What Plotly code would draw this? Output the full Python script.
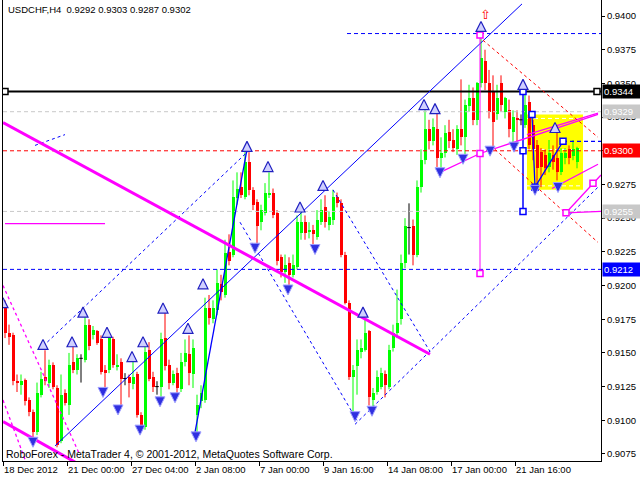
import plotly.graph_objects as go

# ---------------- data ----------------
chart_title = "USDCHF,H4  0.9292 0.9303 0.9287 0.9302"
copyright_text = "RoboForex - MetaTrader 4, © 2001-2012, MetaQuotes Software Corp."

time_labels = ["18 Dec 2012", "21 Dec 00:00", "27 Dec 04:00", "2 Jan 08:00", "7 Jan 00:00",
               "9 Jan 16:00", "14 Jan 08:00", "17 Jan 00:00", "21 Jan 16:00"]
time_label_bars = [0, 16, 32, 48, 64, 80, 96, 112, 128]

opens = [0.9183, 0.9165, 0.9163, 0.9129, 0.9126, 0.9130, 0.9115, 0.9106, 0.9091, 0.9119,
         0.9132, 0.9128, 0.9141, 0.9124, 0.9085, 0.9120, 0.9111, 0.9143, 0.9137, 0.9146,
         0.9145, 0.9171, 0.9163, 0.9166, 0.9160, 0.9137, 0.9137, 0.9160, 0.9140, 0.9143,
         0.9131, 0.9132, 0.9127, 0.9134, 0.9104, 0.9095, 0.9152, 0.9132, 0.9125, 0.9125,
         0.9161, 0.9141, 0.9128, 0.9135, 0.9123, 0.9143, 0.9149, 0.9134, 0.9104, 0.9114,
         0.9115, 0.9183, 0.9175, 0.9182, 0.9201, 0.9193, 0.9225, 0.9223, 0.9265, 0.9273,
         0.9266, 0.9292, 0.9271, 0.9262, 0.9247, 0.9254, 0.9267, 0.9269, 0.9254, 0.9221,
         0.9210, 0.9217, 0.9208, 0.9214, 0.9239, 0.9247, 0.9240, 0.9241, 0.9236, 0.9247,
         0.9258, 0.9245, 0.9249, 0.9266, 0.9261, 0.9223, 0.9187, 0.9132, 0.9140, 0.9151,
         0.9152, 0.9166, 0.9115, 0.9121, 0.9125, 0.9134, 0.9125, 0.9154, 0.9165, 0.9175,
         0.9217, 0.9243, 0.9244, 0.9223, 0.9273, 0.9293, 0.9316, 0.9307, 0.9316, 0.9295,
         0.9298, 0.9314, 0.9308, 0.9301, 0.9316, 0.9310, 0.9333, 0.9339, 0.9323, 0.9350,
         0.9367, 0.9350, 0.9344, 0.9327, 0.9350, 0.9329, 0.9330, 0.9314, 0.9324, 0.9323,
         0.9319, 0.9336, 0.9319, 0.9304, 0.9299, 0.9297, 0.9288, 0.9297, 0.9295, 0.9284,
         0.9295, 0.9301, 0.9296, 0.9292]
highs = [0.9189, 0.9171, 0.9165, 0.9134, 0.9134, 0.9131, 0.9117, 0.9108, 0.9128, 0.9136,
         0.9152, 0.9145, 0.9143, 0.9126, 0.9134, 0.9123, 0.9150, 0.9155, 0.9149, 0.9149,
         0.9177, 0.9175, 0.9170, 0.9167, 0.9163, 0.9141, 0.9163, 0.9162, 0.9149, 0.9146,
         0.9135, 0.9134, 0.9145, 0.9136, 0.9106, 0.9156, 0.9158, 0.9136, 0.9129, 0.9165,
         0.9180, 0.9145, 0.9137, 0.9139, 0.9150, 0.9160, 0.9163, 0.9160, 0.9119, 0.9126,
         0.9191, 0.9193, 0.9189, 0.9212, 0.9208, 0.9234, 0.9238, 0.9278, 0.9284, 0.9284,
         0.9299, 0.9299, 0.9273, 0.9264, 0.9260, 0.9276, 0.9284, 0.9272, 0.9256, 0.9223,
         0.9223, 0.9221, 0.9223, 0.9252, 0.9256, 0.9252, 0.9247, 0.9245, 0.9256, 0.9264,
         0.9267, 0.9255, 0.9271, 0.9269, 0.9264, 0.9225, 0.9189, 0.9141, 0.9160, 0.9160,
         0.9175, 0.9167, 0.9124, 0.9137, 0.9139, 0.9137, 0.9156, 0.9171, 0.9197, 0.9223,
         0.9250, 0.9261, 0.9249, 0.9278, 0.9301, 0.9330, 0.9323, 0.9324, 0.9328, 0.9310,
         0.9319, 0.9323, 0.9316, 0.9319, 0.9353, 0.9338, 0.9349, 0.9347, 0.9351, 0.9385,
         0.9375, 0.9360, 0.9356, 0.9349, 0.9356, 0.9340, 0.9338, 0.9330, 0.9330, 0.9327,
         0.9344, 0.9341, 0.9323, 0.9308, 0.9302, 0.9301, 0.9308, 0.9304, 0.9319, 0.9302,
         0.9302, 0.9304, 0.9308, 0.9303]
lows = [0.9161, 0.9156, 0.9126, 0.9121, 0.9119, 0.9111, 0.9103, 0.9085, 0.9089, 0.9117,
        0.9126, 0.9124, 0.9123, 0.9080, 0.9083, 0.9111, 0.9104, 0.9135, 0.9134, 0.9128,
        0.9143, 0.9152, 0.9160, 0.9156, 0.9134, 0.9123, 0.9135, 0.9139, 0.9137, 0.9109,
        0.9126, 0.9117, 0.9123, 0.9102, 0.9093, 0.9093, 0.9129, 0.9121, 0.9119, 0.9115,
        0.9137, 0.9123, 0.9126, 0.9120, 0.9121, 0.9140, 0.9126, 0.9124, 0.9091, 0.9109,
        0.9113, 0.9171, 0.9172, 0.9178, 0.9189, 0.9191, 0.9215, 0.9221, 0.9260, 0.9265,
        0.9264, 0.9267, 0.9256, 0.9229, 0.9241, 0.9252, 0.9265, 0.9250, 0.9215, 0.9206,
        0.9202, 0.9198, 0.9206, 0.9212, 0.9234, 0.9234, 0.9235, 0.9230, 0.9234, 0.9245,
        0.9243, 0.9241, 0.9245, 0.9258, 0.9221, 0.9186, 0.9130, 0.9106, 0.9119, 0.9146,
        0.9151, 0.9111, 0.9108, 0.9119, 0.9123, 0.9117, 0.9123, 0.9151, 0.9161, 0.9171,
        0.9213, 0.9223, 0.9215, 0.9221, 0.9269, 0.9290, 0.9301, 0.9304, 0.9288, 0.9284,
        0.9295, 0.9302, 0.9299, 0.9297, 0.9304, 0.9296, 0.9329, 0.9319, 0.9319, 0.9347,
        0.9345, 0.9324, 0.9301, 0.9323, 0.9329, 0.9324, 0.9310, 0.9304, 0.9304, 0.9319,
        0.9317, 0.9301, 0.9293, 0.9273, 0.9273, 0.9282, 0.9284, 0.9286, 0.9278, 0.9282,
        0.9290, 0.9290, 0.9293, 0.9287]
closes = [0.9165, 0.9162, 0.9129, 0.9128, 0.9129, 0.9114, 0.9106, 0.9091, 0.9120, 0.9131,
          0.9129, 0.9141, 0.9125, 0.9082, 0.9119, 0.9113, 0.9141, 0.9137, 0.9146, 0.9146,
          0.9171, 0.9155, 0.9167, 0.9157, 0.9136, 0.9135, 0.9161, 0.9141, 0.9141, 0.9131,
          0.9131, 0.9128, 0.9132, 0.9104, 0.9094, 0.9151, 0.9131, 0.9125, 0.9125, 0.9160,
          0.9140, 0.9128, 0.9134, 0.9124, 0.9143, 0.9150, 0.9135, 0.9154, 0.9111, 0.9120,
          0.9183, 0.9176, 0.9183, 0.9202, 0.9195, 0.9224, 0.9218, 0.9266, 0.9272, 0.9267,
          0.9292, 0.9271, 0.9260, 0.9244, 0.9256, 0.9269, 0.9269, 0.9252, 0.9218, 0.9210,
          0.9215, 0.9208, 0.9215, 0.9247, 0.9247, 0.9239, 0.9241, 0.9238, 0.9249, 0.9256,
          0.9247, 0.9251, 0.9266, 0.9261, 0.9223, 0.9187, 0.9132, 0.9137, 0.9152, 0.9154,
          0.9165, 0.9117, 0.9120, 0.9132, 0.9135, 0.9126, 0.9152, 0.9165, 0.9172, 0.9217,
          0.9244, 0.9243, 0.9223, 0.9273, 0.9293, 0.9316, 0.9307, 0.9318, 0.9295, 0.9298,
          0.9313, 0.9307, 0.9302, 0.9316, 0.9310, 0.9334, 0.9339, 0.9323, 0.9350, 0.9369,
          0.9350, 0.9329, 0.9321, 0.9339, 0.9334, 0.9339, 0.9316, 0.9325, 0.9323, 0.9323,
          0.9334, 0.9304, 0.9301, 0.9287, 0.9288, 0.9287, 0.9298, 0.9292, 0.9284, 0.9298,
          0.9298, 0.9295, 0.9301, 0.9302]

price_ticks = [0.9075, 0.9100, 0.9125, 0.9150, 0.9175, 0.9200, 0.9225, 0.9250,
               0.9275, 0.9300, 0.9325, 0.9350, 0.9375, 0.9400]

# horizontal levels
level_prices = [0.9344, 0.9329, 0.9300, 0.9255, 0.9212]
level_colors = ["black", "#c8c8c8", "#ff0000", "#c8c8c8", "#0000ff"]
level_dashes = ["solid", "4px,3px", "4px,3px", "4px,3px", "4px,3px"]
level_widths = [2, 1, 1, 1, 1]
label_bgs = ["black", "#c8c8c8", "#ff0000", "#c8c8c8", "#0000ff"]

# analysis drawings: (bar position, price)
uptrend_x, uptrend_y = [13.0, 129.75], [0.9081, 0.9409]
steep_x, steep_y = [48.0, 61.0], [0.9091, 0.9301]
channel_x, channel_y = [10.0, 61.75], [0.9155, 0.9301]
short_dash_x, short_dash_y = [8.0, 15.5], [0.9304, 0.9312]
fall_dash1_x, fall_dash1_y = [59.25, 88.5], [0.9247, 0.9100]
fall_dash2_x, fall_dash2_y = [82.5, 106.75], [0.9271, 0.9151]
rise_dash_x, rise_dash_y = [88.0, 148.75], [0.9097, 0.9273]
top_dash_x, top_dash_y = [86.0, 149.5], [0.9387, 0.9387]
right_dash_x, right_dash_y = [140.0, 149.5], [0.9307, 0.9307]
zigzag_x, zigzag_y = [132.25, 133.0, 140.0], [0.9327, 0.9273, 0.9307]
vert_blue_x, vert_blue_y = [130.0, 130.0], [0.9344, 0.9255]

mag_thick1_x, mag_thick1_y = [0.0, 106.75], [0.9321, 0.9149]
mag_thick2_x, mag_thick2_y = [0.0, 18.0], [0.9099, 0.9069]
mag_flat_x, mag_flat_y = [0.5, 25.5], [0.9246, 0.9246]
mag_dot1_x, mag_dot1_y = [0.0, 19.25], [0.9200, 0.9074]
mag_dot2_x, mag_dot2_y = [0.0, 5.5], [0.9115, 0.9071]
mag_vert_x, mag_vert_y = [119.25, 119.25], [0.9386, 0.9209]
mag_fan1_x, mag_fan1_y = [109.25, 119.25, 148.75], [0.9284, 0.9298, 0.9327]
mag_fan2_x, mag_fan2_y = [131.0, 148.75], [0.9312, 0.9328]
mag_low_x, mag_low_y = [137.25, 148.75], [0.9272, 0.9290]
mag_rise_x, mag_rise_y = [140.75, 147.5, 149.5], [0.9254, 0.9276, 0.9282]
mag_flat2_x, mag_flat2_y = [140.75, 149.5], [0.9254, 0.9255]

red_dash1_x, red_dash1_y = [120.0, 148.75], [0.9382, 0.9310]
red_dash2_x, red_dash2_y = [123.0, 148.75], [0.9301, 0.9232]

box_x, box_y = [131.0, 145.0], [0.9271, 0.9327]
box_lines_y = [0.9324, 0.9301, 0.9274]

black_sq_x, black_sq_y = [0.5, 148.5], [0.9344, 0.9344]
blue_sq_x = [130.0, 130.0, 130.0, 132.25, 133.0, 140.0]
blue_sq_y = [0.9344, 0.9300, 0.9255, 0.9327, 0.9273, 0.9307]
mag_sq_x = [119.25, 119.25, 119.25, 140.75, 147.5]
mag_sq_y = [0.9386, 0.9298, 0.9209, 0.9254, 0.9276]

up_arrow_x = [0, 10, 17.25, 20, 26, 32.25, 35, 40, 46.25, 50, 61, 66.25, 74.25, 80, 90,
              105.25, 108, 119.5, 130, 138]
up_arrow_y = [0.9191, 0.9160, 0.9162, 0.9184, 0.9169, 0.9151, 0.9162, 0.9187, 0.9172, 0.9205,
              0.9307, 0.9292, 0.9262, 0.9278, 0.9184, 0.9338, 0.9335, 0.9396, 0.9353, 0.9321]
down_arrow_x = [7.5, 25, 28.75, 34.25, 39.25, 43, 48.25, 63, 71.25, 78, 88, 92.25,
                109.25, 115, 121.75, 127.75, 133, 138.75]
down_arrow_y = [0.9080, 0.9117, 0.9104, 0.9089, 0.9110, 0.9113, 0.9084, 0.9224, 0.9193, 0.9223,
                0.9099, 0.9103, 0.9280, 0.9290, 0.9296, 0.9299, 0.9267, 0.9269]
red_mark_x, red_mark_y = 120.5, 0.9401

# ---------------- figure ----------------
FONT = "Liberation Sans"
n = len(opens)
pos = [i + 0.5 for i in range(n)]

fig = go.Figure()

# candle bodies
body_base, body_h, body_col = [], [], []
for o, c in zip(opens, closes):
    body_base.append(min(o, c))
    body_h.append(max(abs(c - o), 0.00008))
    body_col.append("#00ff00" if c > o else ("#ff0000" if c < o else "rgba(0,0,0,0)"))
fig.add_trace(go.Bar(x=pos, y=body_h, base=body_base, width=0.75,
                     marker=dict(color=body_col, line=dict(width=0)), hoverinfo="skip"))

# wicks
for colr, test in [("#00ff00", lambda o, c: c > o), ("#ff0000", lambda o, c: c < o),
                   ("black", lambda o, c: c == o)]:
    wx, wy = [], []
    for p, o, h, l, c in zip(pos, opens, highs, lows, closes):
        if test(o, c):
            wx += [p, p, None]
            wy += [l, h, None]
            if colr == "black":
                wx += [p - 0.45, p + 0.45, None]
                wy += [o, o, None]
    fig.add_trace(go.Scatter(x=wx, y=wy, mode="lines", line=dict(color=colr, width=1),
                             hoverinfo="skip"))

# yellow box
fig.add_shape(type="rect", xref="x", yref="y", x0=box_x[0], x1=box_x[1], y0=box_y[0], y1=box_y[1],
              fillcolor="#ffff00", line=dict(width=0), layer="below")
for by in box_lines_y:
    fig.add_shape(type="line", xref="x", yref="y", x0=box_x[0], x1=box_x[1], y0=by, y1=by,
                  line=dict(color="white", width=1, dash="4px,3px"), layer="below")


def line(xs, ys, color, width=1, dash="solid"):
    fig.add_trace(go.Scatter(x=xs, y=ys, mode="lines", line=dict(color=color, width=width, dash=dash),
                             hoverinfo="skip"))


for p, colr, d, w in zip(level_prices, level_colors, level_dashes, level_widths):
    line([0, 149.5], [p, p], colr, w, d)

BLUE = "#0000ff"
MAG = "#ff00ff"
dot = "3px,3px"
line(uptrend_x, uptrend_y, BLUE, 1)
line(steep_x, steep_y, BLUE, 1.3)
line(channel_x, channel_y, BLUE, 1, dot)
line(short_dash_x, short_dash_y, BLUE, 1, dot)
line(fall_dash1_x, fall_dash1_y, BLUE, 1, dot)
line(fall_dash2_x, fall_dash2_y, BLUE, 1, dot)
line(rise_dash_x, rise_dash_y, BLUE, 1, dot)
line(top_dash_x, top_dash_y, BLUE, 1, "4px,3px")
line(right_dash_x, right_dash_y, BLUE, 1.3, "4px,3px")
line(zigzag_x, zigzag_y, BLUE, 1.3)
line(vert_blue_x, vert_blue_y, BLUE, 1.5)

line(mag_thick1_x, mag_thick1_y, MAG, 3)
line(mag_thick2_x, mag_thick2_y, MAG, 3)
line(mag_flat_x, mag_flat_y, MAG, 1.3)
line(mag_dot1_x, mag_dot1_y, MAG, 1.3, dot)
line(mag_dot2_x, mag_dot2_y, MAG, 1.3, dot)
line(mag_vert_x, mag_vert_y, MAG, 1)
line(mag_fan1_x, mag_fan1_y, MAG, 1.3)
line(mag_fan2_x, mag_fan2_y, MAG, 1.3)
line(mag_low_x, mag_low_y, MAG, 1.3)
line(mag_rise_x, mag_rise_y, MAG, 1.3)
line(mag_flat2_x, mag_flat2_y, MAG, 1.3)

line(red_dash1_x, red_dash1_y, "#ff0000", 1, dot)
line(red_dash2_x, red_dash2_y, "#ff0000", 1, dot)

# squares
for xs, ys, colr in [(black_sq_x, black_sq_y, "black"), (blue_sq_x, blue_sq_y, BLUE),
                     (mag_sq_x, mag_sq_y, MAG)]:
    fig.add_trace(go.Scatter(x=xs, y=ys, mode="markers",
                             marker=dict(symbol="square", size=6, color="white",
                                         line=dict(color=colr, width=1.5)), hoverinfo="skip"))

# fractal arrows
fig.add_trace(go.Scatter(x=up_arrow_x, y=up_arrow_y, mode="markers",
                         marker=dict(symbol="arrow-up", size=10, color="#d0d0ff",
                                     line=dict(color="#2020c0", width=1.2)), hoverinfo="skip"))
fig.add_trace(go.Scatter(x=down_arrow_x, y=down_arrow_y, mode="markers",
                         marker=dict(symbol="arrow-down", size=10, color="#3030e0",
                                     line=dict(color="#a0a0ff", width=1)), hoverinfo="skip"))

# annotations
fig.add_annotation(x=red_mark_x, y=red_mark_y, xref="x", yref="y", text="⇧", showarrow=False,
                   font=dict(family="DejaVu Sans", size=13, color="#ff0000"))
fig.add_annotation(x=0, y=1, xref="paper", yref="paper", xanchor="left", yanchor="top",
                   text=chart_title, showarrow=False, xshift=3, yshift=-2,
                   font=dict(family=FONT, size=9.5, color="black"))
fig.add_annotation(x=0, y=0, xref="paper", yref="paper", xanchor="left", yanchor="bottom",
                   text=copyright_text, showarrow=False, xshift=1, yshift=-1,
                   font=dict(family=FONT, size=10.5, color="black"))

for p, bg in zip(level_prices, label_bgs):
    fig.add_annotation(x=1, xref="paper", y=p, yref="y", xanchor="left", yanchor="middle",
                       text=f"{p:.4f}", showarrow=False, align="left", width=36, height=11,
                       bgcolor=bg, borderpad=1, xshift=1,
                       font=dict(family=FONT, size=9.5, color="white"))

fig.update_layout(
    width=640, height=480,
    margin=dict(l=3, r=39, t=0, b=19, autoexpand=False),
    paper_bgcolor="white", plot_bgcolor="white",
    showlegend=False, bargap=0,
    xaxis=dict(range=[0, 149.5], showgrid=False, zeroline=False, showline=True,
               linecolor="black", linewidth=1, ticks="outside", ticklen=4, tickcolor="black",
               tickvals=time_label_bars, ticktext=time_labels, ticklabelposition="outside right",
               tickangle=0, automargin=False,
               tickfont=dict(family=FONT, size=9.5, color="black"), fixedrange=True),
    yaxis=dict(range=[0.90698, 0.94119], side="right", showgrid=False, zeroline=False,
               showline=True, linecolor="black", linewidth=1, mirror=True,
               ticks="outside", ticklen=3, tickcolor="black", automargin=False,
               tickvals=price_ticks, ticktext=[f"{p:.4f}" for p in price_ticks],
               tickfont=dict(family=FONT, size=9.5, color="black"), fixedrange=True),
)

fig.write_html("out.html", config={"displayModeBar": False},
               post_script="document.body.style.margin='0';document.body.style.overflow='hidden';")
